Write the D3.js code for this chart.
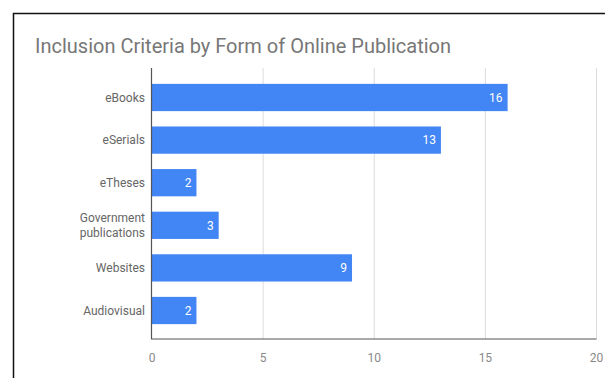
<!DOCTYPE html>
<html>
<head>
<meta charset="utf-8">
<script src="https://cdn.jsdelivr.net/npm/d3@7"></script>
<style>
  html, body { margin: 0; padding: 0; background: #fff; }
  svg { display: block; font-family: Roboto, "Noto Sans", Arial, sans-serif; }
</style>
</head>
<body>
<svg id="chart" width="605" height="378"></svg>
<script>
// Chart content
const title = "Inclusion Criteria by Form of Online Publication";
const categories = ["eBooks", "eSerials", "eTheses", "Government publications", "Websites", "Audiovisual"];
const counts = [16, 13, 2, 3, 9, 2];
const xTicks = [0, 5, 10, 15, 20];

const svg = d3.select("#chart");

// Card frame (top and left edges are visible within the view)
svg.append("rect")
  .attr("x", 13.5).attr("y", 13.5)
  .attr("width", 700).attr("height", 500)
  .attr("fill", "#fff")
  .attr("stroke", "#111").attr("stroke-width", 1.5);

svg.append("text")
  .attr("x", 35).attr("y", 53)
  .attr("fill", "#777")
  .attr("font-size", 20)
  .text(title);

const plot = { left: 152, right: 596.5, top: 68, bottom: 339 };

const x = d3.scaleLinear().domain([0, 20]).range([plot.left, plot.right]);
const y = d3.scaleBand().domain(categories).range([76.2, 331.8]).paddingInner(0.36).paddingOuter(0.18);

// Vertical gridlines
svg.append("g").selectAll("line")
  .data(xTicks.filter(d => d > 0))
  .join("line")
  .attr("x1", d => x(d)).attr("x2", d => x(d))
  .attr("y1", plot.top).attr("y2", plot.bottom)
  .attr("stroke", "#dcdcdc").attr("stroke-width", 1);

// Bars
svg.append("g").selectAll("rect")
  .data(categories)
  .join("rect")
  .attr("x", x(0))
  .attr("y", d => y(d))
  .attr("width", (d, i) => x(counts[i]) - x(0))
  .attr("height", y.bandwidth())
  .attr("fill", "#4285f4");

// Value labels inside bar ends
svg.append("g").selectAll("text")
  .data(categories)
  .join("text")
  .attr("x", (d, i) => x(counts[i]) - 5)
  .attr("y", d => y(d) + y.bandwidth() / 2)
  .attr("dy", "0.36em")
  .attr("text-anchor", "end")
  .attr("fill", "#ffffff")
  .attr("font-size", 12)
  .text((d, i) => counts[i]);

// Category axis labels (wrapped on spaces when too long)
const catG = svg.append("g");
categories.forEach(c => {
  const words = c.length > 12 ? c.split(" ") : [c];
  const cy = y(c) + y.bandwidth() / 2;
  const lh = 15;
  words.forEach((w, j) => {
    catG.append("text")
      .attr("x", 145)
      .attr("y", cy + (j - (words.length - 1) / 2) * lh)
      .attr("dy", "0.36em")
      .attr("text-anchor", "end")
      .attr("fill", "#666")
      .attr("font-size", 12)
      .text(w);
  });
});

// Axis lines
svg.append("line")
  .attr("x1", plot.left - 0.5).attr("x2", plot.left - 0.5)
  .attr("y1", plot.top).attr("y2", plot.bottom)
  .attr("stroke", "#555").attr("stroke-width", 1.2);
svg.append("line")
  .attr("x1", plot.left - 1).attr("x2", plot.right)
  .attr("y1", plot.bottom).attr("y2", plot.bottom)
  .attr("stroke", "#555").attr("stroke-width", 1.2);

// X tick labels
svg.append("g").selectAll("text")
  .data(xTicks)
  .join("text")
  .attr("x", d => x(d))
  .attr("y", 358)
  .attr("dy", "0.36em")
  .attr("text-anchor", "middle")
  .attr("fill", "#888")
  .attr("font-size", 12)
  .text(d => d);
</script>
</body>
</html>
